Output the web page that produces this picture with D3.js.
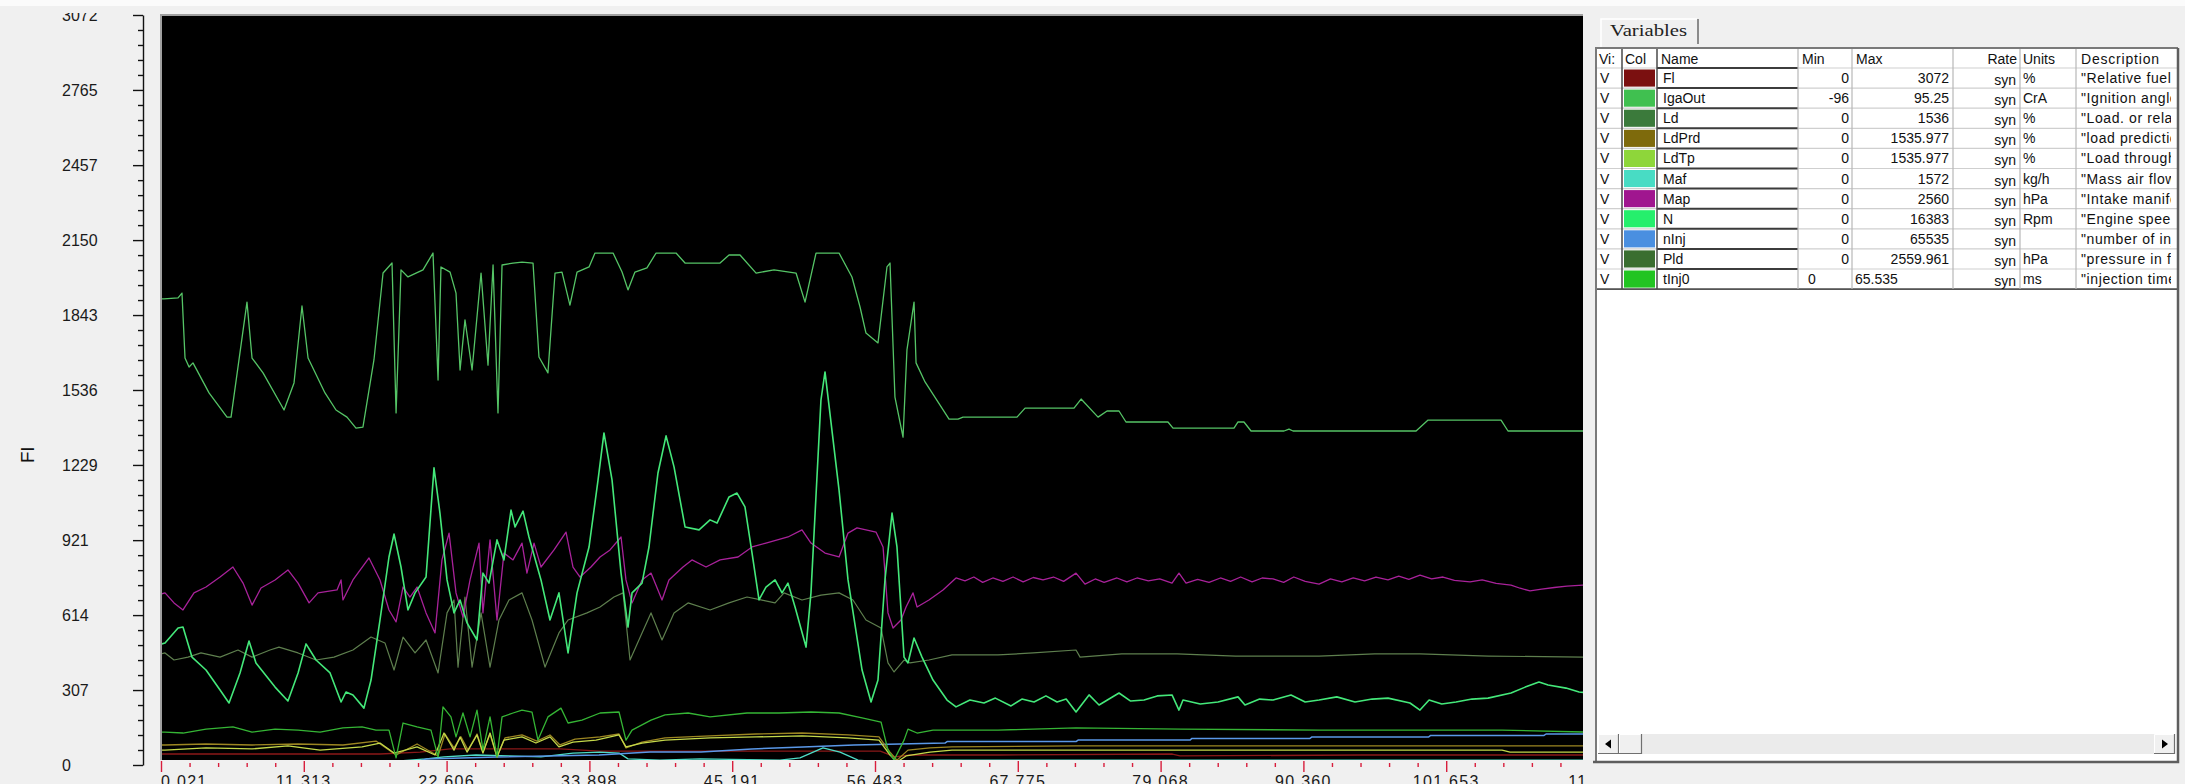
<!DOCTYPE html>
<html>
<head>
<meta charset="utf-8">
<script src="https://cdn.jsdelivr.net/npm/d3@7"></script>
<style>
  html, body { margin: 0; padding: 0; background: #f0f0f0; overflow: hidden; }
  svg { display: block; font-family: "Liberation Sans", Arial, sans-serif; }
</style>
</head>
<body>
<svg id="chart"></svg>
<script>
// axis labels
const yTickLabels = ["0", "307", "614", "921", "1229", "1536", "1843", "2150", "2457", "2765", "3072"];
const xTickLabels = ["0.021", "11.313", "22.606", "33.898", "45.191", "56.483", "67.775", "79.068", "90.360", "101.653", "112.945"];

// variables table
const varNames = ["Fl", "IgaOut", "Ld", "LdPrd", "LdTp", "Maf", "Map", "N", "nInj", "Pld", "tInj0"];
const varMins = ["0", "-96", "0", "0", "0", "0", "0", "0", "0", "0", "0"];
const varMaxes = ["3072", "95.25", "1536", "1535.977", "1535.977", "1572", "2560", "16383", "65535", "2559.961", "65.535"];
const varUnits = ["%", "CrA", "%", "%", "%", "kg/h", "hPa", "Rpm", "", "hPa", "ms"];
const varDescriptions = ['"Relative fuel mass"', '"Ignition angle output"', '"Load. or relative air charge"', '"load prediction"',
  '"Load through throttle"', '"Mass air flow"', '"Intake manifold pressure"', '"Engine speed"', '"number of injections"',
  '"pressure in front of throttle"', '"injection time"'];
const varColors = ["#7b1010", "#40c050", "#3b7a3b", "#7e6a0c", "#8ed63a", "#48dcc4", "#a0168f", "#25ef6c", "#4a8fe0", "#3a6e30", "#22c422"];

// series, [time s, value on Fl axis]
const igaOutData = [[0.021,1909],[0.26,1909],[1.37,1913],[1.68,1933],[1.92,1667],[2.24,1630],[2.55,1647],[3.82,1524],[5.24,1425],[5.56,1425],[6.82,1896],[7.22,1667],[8.09,1606],[9.75,1454],[10.54,1565],[11.17,1880],[11.65,1667],[12.99,1524],[13.86,1454],[14.73,1425],[15.44,1380],[15.99,1384],[16.86,1659],[17.58,2015],[18.29,2056],[18.61,1442],[19.0,2028],[19.55,1999],[20.74,2028],[21.53,2097],[21.93,1577],[22.16,2040],[22.88,2019],[23.35,1933],[23.67,1618],[24.06,1823],[24.62,1618],[25.33,2015],[25.88,1638],[26.28,2048],[26.67,1442],[26.99,2048],[27.86,2056],[28.57,2060],[29.44,2056],[29.91,1671],[30.62,1606],[31.18,2015],[31.73,2019],[32.36,1884],[32.92,2019],[33.87,2040],[34.34,2097],[35.77,2097],[36.48,2019],[36.95,1946],[37.5,2019],[38.45,2036],[39.17,2097],[40.75,2097],[41.46,2056],[44.23,2056],[44.94,2089],[45.81,2089],[47.08,2015],[48.5,2028],[50.24,2015],[50.95,1896],[51.82,2097],[53.64,2097],[54.66,1999],[55.3,1876],[55.77,1769],[56.72,1729],[57.43,2040],[57.67,2056],[58.06,1507],[58.7,1343],[59.01,1700],[59.57,1896],[59.73,1647],[60.44,1569],[62.34,1417],[63.05,1417],[63.44,1425],[67.71,1425],[68.35,1462],[72.22,1462],[72.78,1499],[74.12,1425],[74.83,1450],[75.78,1450],[76.33,1405],[79.65,1405],[80.05,1380],[84.87,1380],[85.19,1405],[85.66,1405],[86.22,1368],[88.83,1368],[89.22,1376],[89.54,1368],[99.27,1368],[100.22,1413],[105.99,1413],[106.54,1368],[112.71,1368]];

const nData = [[0.021,495],[0.34,500],[1.37,561],[1.76,565],[2.47,442],[3.58,389],[4.69,307],[5.4,254],[6.27,377],[6.98,508],[7.53,418],[9.04,319],[10.06,262],[10.86,377],[11.49,496],[12.28,430],[13.39,377],[14.26,258],[14.65,299],[15.2,287],[16.07,233],[16.63,348],[17.34,594],[18.05,852],[18.45,946],[19.0,811],[19.55,635],[20.11,705],[20.98,770],[21.61,1217],[22.08,1032],[22.64,758],[23.19,623],[23.67,676],[24.22,582],[25.01,512],[25.48,786],[25.96,745],[26.59,922],[27.14,840],[27.7,1044],[28.02,975],[28.65,1040],[29.12,934],[30.07,758],[30.78,594],[31.49,705],[32.21,459],[32.92,705],[33.87,893],[34.58,1167],[35.05,1360],[35.69,1167],[36.4,786],[36.95,565],[37.27,705],[38.06,745],[38.61,893],[39.32,1196],[39.96,1348],[40.59,1221],[41.46,975],[42.57,963],[43.44,1004],[43.99,991],[44.94,1098],[45.57,1114],[46.2,1057],[46.76,868],[47.31,676],[47.86,729],[48.58,758],[49.13,705],[49.6,745],[50.16,647],[51.03,483],[51.42,705],[52.21,1495],[52.53,1610],[53.64,1126],[54.35,758],[55.46,389],[56.17,258],[56.72,348],[57.27,758],[57.83,1032],[58.22,893],[58.78,442],[59.09,418],[59.57,520],[60.2,442],[61.07,348],[62.18,266],[62.89,238],[63.99,266],[65.1,254],[66.0,274],[67.24,242],[68.1,270],[69.06,258],[70.0,283],[70.88,258],[71.6,270],[72.38,217],[73.41,287],[74.2,246],[75.78,295],[76.7,262],[77.76,266],[78.8,283],[79.97,287],[80.52,225],[80.84,266],[82.2,250],[83.61,258],[85.19,279],[85.74,246],[86.9,270],[87.96,266],[89.38,287],[90.5,258],[91.6,266],[93.0,279],[94.44,258],[95.8,270],[97.05,274],[98.79,254],[99.58,225],[100.3,266],[101.3,250],[102.43,258],[103.7,270],[104.96,274],[106.78,295],[107.9,319],[108.99,340],[109.71,328],[111.13,315],[112.16,299],[112.6,297]];

const mapData = [[0.021,700],[0.34,705],[1.05,664],[1.76,635],[2.63,705],[3.58,729],[4.69,770],[5.71,811],[6.51,745],[7.22,655],[7.93,725],[9.04,758],[10.06,799],[10.86,745],[11.73,664],[12.44,705],[13.94,717],[14.26,758],[14.41,676],[15.2,758],[16.47,848],[17.34,758],[18.05,635],[18.61,586],[19.16,729],[19.71,688],[20.27,729],[20.98,623],[21.69,541],[22.24,840],[22.8,950],[23.35,705],[23.9,606],[24.46,758],[25.17,909],[25.48,623],[26.04,922],[26.59,594],[27.14,868],[27.86,840],[28.57,909],[28.96,786],[29.52,909],[30.07,811],[31.1,881],[32.05,954],[32.6,811],[33.16,770],[34.02,811],[34.74,852],[35.53,881],[36.4,934],[36.79,758],[37.27,664],[38.06,758],[38.77,786],[39.64,676],[40.19,758],[41.3,811],[42.01,840],[43.12,811],[44.23,840],[45.65,852],[46.76,893],[47.86,909],[49.6,934],[50.71,963],[51.42,909],[52.53,868],[53.64,852],[54.35,950],[55.06,971],[56.56,954],[57.12,893],[57.51,623],[57.91,561],[58.54,594],[58.94,647],[59.49,705],[59.81,647],[60.75,676],[61.86,717],[62.89,766],[63.6,754],[64.3,770],[65.0,748],[65.8,766],[66.6,752],[67.4,770],[68.2,750],[69.0,768],[69.77,758],[70.6,770],[71.4,752],[72.38,786],[73.09,741],[73.9,762],[74.6,748],[75.62,766],[76.4,750],[77.2,766],[78.1,754],[79.0,762],[79.97,745],[80.52,786],[81.08,745],[82.0,760],[82.9,748],[83.8,766],[84.6,752],[85.4,770],[86.3,750],[87.1,766],[87.96,762],[88.8,748],[89.6,770],[90.5,752],[91.6,741],[92.5,762],[93.4,750],[94.3,766],[95.2,754],[96.1,770],[97.05,758],[97.9,774],[98.7,760],[99.58,778],[100.5,762],[101.4,770],[102.3,756],[103.54,750],[104.5,758],[105.6,744],[106.78,737],[107.5,724],[108.28,713],[109.2,720],[110.2,727],[111.2,733],[112.6,737]];

const ldData = [[0.021,455],[0.34,459],[1.05,430],[2.16,442],[3.18,459],[4.69,442],[6.11,471],[7.22,442],[8.64,471],[9.35,483],[10.86,459],[12.28,430],[13.7,442],[15.2,471],[16.63,524],[17.73,500],[18.45,389],[19.16,524],[20.11,459],[20.98,512],[21.93,377],[22.64,623],[23.19,676],[23.51,401],[24.06,688],[24.62,401],[25.33,623],[26.04,401],[26.75,594],[27.54,676],[28.57,705],[29.36,594],[30.39,401],[31.49,541],[32.21,594],[33.71,623],[34.74,647],[35.84,688],[36.56,705],[37.11,430],[38.06,541],[38.77,623],[39.64,512],[40.59,623],[41.7,664],[43.44,635],[44.94,664],[46.36,688],[47.47,676],[48.58,664],[49.29,705],[50.71,676],[52.21,696],[53.64,705],[54.74,676],[55.77,594],[56.96,561],[57.51,418],[57.99,381],[58.78,430],[59.25,418],[60.75,430],[62.57,451],[66.21,451],[69.0,459],[72.38,471],[72.7,442],[76.0,455],[80.37,455],[85.0,446],[91.6,446],[96.0,455],[99.58,455],[105.0,446],[112.6,442]];

const tInj0Data = [[0.021,135],[0.34,135],[1.76,131],[3.58,147],[5.71,156],[7.22,135],[9.04,147],[10.86,143],[12.6,135],[14.41,152],[15.92,156],[17.02,143],[18.05,143],[18.61,29],[19.16,172],[20.27,156],[21.37,143],[21.93,33],[22.32,238],[22.95,197],[23.35,115],[23.9,213],[24.46,115],[25.01,225],[25.48,61],[26.04,197],[26.59,33],[26.99,197],[27.86,213],[28.57,225],[29.36,217],[29.83,102],[30.62,197],[31.65,233],[32.21,172],[33.31,184],[34.74,213],[36.24,217],[36.79,102],[37.27,143],[38.77,184],[39.88,205],[41.7,213],[43.44,197],[46.36,213],[48.89,213],[51.42,217],[53.64,213],[55.46,193],[56.96,176],[57.51,61],[57.99,20],[58.78,102],[59.09,147],[59.81,131],[61.07,143],[66.21,143],[72.38,152],[80.68,147],[91.6,143],[106.07,143],[112.6,135]];

const ldPrdData = [[0.021,82],[0.34,82],[3.58,86],[7.22,82],[10.86,86],[14.41,82],[17.02,98],[18.61,41],[20.27,86],[21.93,37],[22.48,127],[23.19,70],[23.74,115],[24.3,61],[25.01,127],[25.48,53],[26.04,127],[26.59,33],[27.22,111],[28.57,123],[29.75,98],[30.78,123],[31.57,82],[32.76,106],[34.74,115],[36.24,127],[36.79,70],[38.06,94],[39.88,111],[43.44,119],[47.08,127],[50.71,131],[54.35,123],[56.8,115],[57.67,53],[58.22,20],[59.09,61],[60.83,70],[62.57,74],[72.38,78],[112.6,78]];

const ldTpData = [[0.021,61],[0.34,61],[3.58,70],[7.22,66],[10.06,78],[12.6,61],[15.92,74],[17.34,90],[18.45,49],[20.27,74],[21.69,41],[22.4,131],[23.19,61],[23.67,115],[24.22,53],[25.01,123],[25.48,49],[26.04,131],[26.59,33],[27.14,102],[28.57,115],[29.67,90],[30.78,115],[31.49,74],[32.6,94],[34.42,102],[36.24,123],[36.79,74],[38.06,90],[39.88,102],[43.44,111],[47.08,115],[50.71,119],[54.35,111],[56.8,102],[57.67,41],[58.22,12],[58.94,37],[60.83,53],[62.57,61],[106.07,61],[106.7,53],[112.6,53]];

const flData = [[0.021,45],[17.34,45],[20.5,53],[22.9,66],[31.6,66],[34.7,57],[42.6,57],[56.9,57],[58.06,33],[59.25,41],[66.37,41],[80.0,45],[80.6,37],[95.0,41],[112.6,41]];

const nInjData = [[0.021,0],[19.71,0],[20.98,25],[26.59,33],[34.66,41],[38.69,53],[42.72,53],[46.76,66],[50.79,74],[54.82,82],[58.46,86],[62.02,90],[62.18,96],[72.38,96],[72.54,102],[81.39,102],[81.55,109],[90.88,109],[91.04,115],[100.27,115],[100.43,121],[109.39,121],[109.55,127],[112.6,127]];

const mafData = [[0.021,0],[17.73,12],[20.98,25],[22.4,33],[24.93,41],[27.54,37],[30.07,33],[32.6,49],[34.74,53],[36.24,49],[36.95,25],[39.48,20],[42.65,25],[48.97,20],[50.55,29],[52.37,70],[53.72,53],[55.14,20],[56.88,12],[58.06,4],[59.25,16],[61.63,20],[112.6,20]];

const seriesList = [
  { data: flData, color: "#8a1818", width: 1.3 },
  { data: mafData, color: "#4edcc6", width: 1.3 },
  { data: nInjData, color: "#5a98e8", width: 1.5 },
  { data: ldPrdData, color: "#9c8622", width: 1.3 },
  { data: ldTpData, color: "#c4d84a", width: 1.3 },
  { data: tInj0Data, color: "#35b535", width: 1.3 },
  { data: ldData, color: "#5e7f4e", width: 1.2 },
  { data: mapData, color: "#a8229a", width: 1.3 },
  { data: nData, color: "#44e87a", width: 1.6 },
  { data: igaOutData, color: "#55c466", width: 1.3 }
];

const W = 2185, H = 784;
const plotLeft = 162, plotTop = 16, plotRight = 1583, plotBottom = 760;

const x = d3.scaleLinear().domain([0.021, 112.945]).range([161, 1589]);
const y = d3.scaleLinear().domain([0, 3072]).range([765, 15]);

const svg = d3.select("#chart").attr("width", W).attr("height", H);
svg.append("rect").attr("width", W).attr("height", H).attr("fill", "#f0f0f0");
svg.append("rect").attr("width", W).attr("height", 6).attr("fill", "#fbfbfb");

const defs = svg.append("defs");
defs.append("clipPath").attr("id", "plotClip").append("rect")
  .attr("x", plotLeft).attr("y", plotTop).attr("width", plotRight - plotLeft).attr("height", plotBottom - plotTop);
defs.append("clipPath").attr("id", "xAxisClip").append("rect")
  .attr("x", 0).attr("y", 0).attr("width", 1584).attr("height", H);
defs.append("clipPath").attr("id", "yLabelClip").append("rect")
  .attr("x", 0).attr("y", 13).attr("width", 160).attr("height", H);
defs.append("clipPath").attr("id", "descClip").append("rect")
  .attr("x", 2076).attr("y", 0).attr("width", 95).attr("height", H);
defs.append("clipPath").attr("id", "viClip").append("rect")
  .attr("x", 1597).attr("y", 0).attr("width", 24).attr("height", H);

// plot box
svg.append("rect").attr("x", plotLeft - 2).attr("y", plotTop - 2)
  .attr("width", plotRight - plotLeft + 2).attr("height", plotBottom - plotTop + 2).attr("fill", "#a0a0a0");
svg.append("rect").attr("x", plotLeft).attr("y", plotTop)
  .attr("width", plotRight - plotLeft).attr("height", plotBottom - plotTop).attr("fill", "#000");

const line = d3.line().x(d => x(d[0])).y(d => y(d[1]));
const gLines = svg.append("g").attr("clip-path", "url(#plotClip)");
seriesList.forEach(s => {
  gLines.append("path").datum(s.data)
    .attr("d", line)
    .attr("fill", "none")
    .attr("stroke", s.color)
    .attr("stroke-width", s.width)
    .attr("stroke-linejoin", "round");
});

// y axis
const yMajor = yTickLabels.map(Number);
const yMinor = [];
for (let i = 0; i < yMajor.length - 1; i++) {
  const step = (yMajor[i + 1] - yMajor[i]) / 5;
  for (let k = 1; k < 5; k++) yMinor.push(yMajor[i] + k * step);
}
const gy = svg.append("g").attr("transform", "translate(143,0)");
gy.call(d3.axisLeft(y).tickValues(yMajor).tickSize(10).tickSizeOuter(0).tickFormat(""));
gy.append("g").call(d3.axisLeft(y).tickValues(yMinor).tickSize(5).tickFormat(""))
  .select(".domain").remove();
gy.selectAll("path, line").attr("stroke", "#111").attr("stroke-width", 1.4);

svg.append("g").attr("clip-path", "url(#yLabelClip)")
  .selectAll("text").data(yTickLabels).join("text")
  .attr("x", 62).attr("y", d => y(+d) + 5.6)
  .attr("font-size", 16).attr("fill", "#1a1a1a")
  .text(d => d);

svg.append("text").attr("transform", "translate(34,455) rotate(-90)")
  .attr("text-anchor", "middle").attr("font-size", 19).attr("fill", "#111")
  .text("Fl");

// x axis
const xMajor = xTickLabels.map(Number);
const xMinor = [];
for (let i = 0; i < xMajor.length - 1; i++) {
  const step = (xMajor[i + 1] - xMajor[i]) / 5;
  for (let k = 1; k < 5; k++) xMinor.push(xMajor[i] + k * step);
}
const gx = svg.append("g").attr("clip-path", "url(#xAxisClip)");
gx.append("g").attr("transform", "translate(0,761)")
  .call(d3.axisBottom(x).tickValues(xMajor).tickSize(11).tickSizeOuter(0).tickFormat(""));
gx.append("g").attr("transform", "translate(0,763)")
  .call(d3.axisBottom(x).tickValues(xMinor).tickSize(4).tickFormat(""));
gx.selectAll(".domain").remove();
gx.selectAll("line").attr("stroke", "#d81e3c").attr("stroke-width", 1.4);
gx.selectAll("text.xl").data(xTickLabels).join("text")
  .attr("class", "xl")
  .attr("x", (d, i) => i === xTickLabels.length - 1 ? x(+d) + 12 : x(+d))
  .attr("y", 787)
  .attr("text-anchor", (d, i) => i === 0 ? "start" : "middle")
  .attr("font-size", 16).attr("letter-spacing", 1.3).attr("fill", "#1a1a1a")
  .text(d => d);

// variables panel
const tabG = svg.append("g");
tabG.append("path").attr("d", "M1601,48V19H1697").attr("fill", "none").attr("stroke", "#ffffff").attr("stroke-width", 1.5);
tabG.append("path").attr("d", "M1698,19V44").attr("fill", "none").attr("stroke", "#6a6a6a").attr("stroke-width", 1.5);
tabG.append("text").attr("x", 1610).attr("y", 36)
  .attr("font-family", "'Liberation Serif', 'Times New Roman', serif")
  .attr("font-size", 17).attr("textLength", 77).attr("lengthAdjust", "spacingAndGlyphs")
  .attr("fill", "#222").text("Variables");

const tblLeft = 1597, tblRight = 2177, tblTop = 49, tblBottom = 761;
const colEdges = [1597, 1622, 1657, 1798, 1852, 1953, 2020, 2076, 2177];
const rowTop0 = 68, rowH = 20.1;
const rowsBottom = rowTop0 + varNames.length * rowH;

svg.append("rect").attr("x", tblLeft).attr("y", tblTop).attr("width", tblRight - tblLeft).attr("height", tblBottom - tblTop)
  .attr("fill", "#ffffff");

const grid = svg.append("g");
for (let i = 0; i <= varNames.length; i++) {
  const yy = rowTop0 + i * rowH;
  grid.append("line").attr("x1", tblLeft).attr("x2", tblRight).attr("y1", yy).attr("y2", yy)
    .attr("stroke", "#cfcfcf").attr("stroke-width", 1.2);
  if (i < varNames.length) {
    grid.append("line").attr("x1", colEdges[2]).attr("x2", colEdges[3]).attr("y1", yy).attr("y2", yy)
      .attr("stroke", "#3c3c3c").attr("stroke-width", 2);
  }
}
grid.append("line").attr("x1", tblLeft).attr("x2", tblRight).attr("y1", rowsBottom).attr("y2", rowsBottom)
  .attr("stroke", "#555").attr("stroke-width", 1.6);
colEdges.slice(1, -1).forEach((cx, i) => {
  grid.append("line").attr("x1", cx).attr("x2", cx).attr("y1", tblTop).attr("y2", rowsBottom)
    .attr("stroke", i < 2 ? "#4a4a4a" : "#b8b8b8").attr("stroke-width", i < 2 ? 1.5 : 1.2);
});

// header
const headers = [
  { t: "Vi:", x: 1599, a: "start", ls: 0 }, { t: "Col", x: 1625, a: "start", ls: 0 }, { t: "Name", x: 1661, a: "start", ls: 0 },
  { t: "Min", x: 1802, a: "start", ls: 0 }, { t: "Max", x: 1856, a: "start", ls: 0 }, { t: "Rate", x: 2017, a: "end", ls: 0 },
  { t: "Units", x: 2023, a: "start", ls: 0 }, { t: "Description", x: 2081, a: "start", ls: 0.8 }
];
svg.append("g").selectAll("text").data(headers).join("text")
  .attr("x", d => d.x).attr("y", 64).attr("text-anchor", d => d.a)
  .attr("letter-spacing", d => d.ls)
  .attr("clip-path", (d, i) => i === 0 ? "url(#viClip)" : null)
  .attr("font-size", 14).attr("fill", "#111").text(d => d.t);

// rows
const rows = svg.append("g").attr("font-size", 14).attr("fill", "#111");
varNames.forEach((name, i) => {
  const top = rowTop0 + i * rowH;
  const base = top + 15;
  const last = i === varNames.length - 1;
  rows.append("text").attr("x", 1600).attr("y", base).text("V");
  rows.append("rect").attr("x", 1624).attr("y", top + 1.5).attr("width", 31).attr("height", rowH - 3)
    .attr("fill", varColors[i]);
  rows.append("text").attr("x", 1663).attr("y", base).text(name);
  rows.append("text").attr("x", last ? 1808 : 1849).attr("y", base)
    .attr("text-anchor", last ? "start" : "end").text(varMins[i]);
  rows.append("text").attr("x", last ? 1855 : 1949).attr("y", base)
    .attr("text-anchor", last ? "start" : "end").text(varMaxes[i]);
  rows.append("text").attr("x", 2016).attr("y", base + 2).attr("text-anchor", "end").text("syn");
  rows.append("text").attr("x", 2023).attr("y", base).text(varUnits[i]);
  rows.append("text").attr("x", 2081).attr("y", base).attr("letter-spacing", 0.6)
    .attr("clip-path", "url(#descClip)").text(varDescriptions[i]);
});

// horizontal scrollbar
const sb = svg.append("g");
sb.append("rect").attr("x", 1598).attr("y", 734).attr("width", 577).attr("height", 20).attr("fill", "#ebebeb");
function sbButton(bx, w) {
  sb.append("rect").attr("x", bx).attr("y", 734).attr("width", w).attr("height", 20).attr("fill", "#f0f0f0");
  sb.append("path").attr("d", `M${bx + 0.5},754V734.5H${bx + w}`).attr("fill", "none").attr("stroke", "#ffffff");
  sb.append("path").attr("d", `M${bx},753.5H${bx + w - 0.5}V734`).attr("fill", "none").attr("stroke", "#707070").attr("stroke-width", 1.2);
}
sbButton(1598, 21);
sbButton(1619, 23);
sbButton(2154, 21);
sb.append("path").attr("d", "M1605,744L1611,739.5V748.5Z").attr("fill", "#000");
sb.append("path").attr("d", "M2168,744L2162,739.5V748.5Z").attr("fill", "#000");

// panel frame
const frame = svg.append("g").attr("fill", "none");
frame.append("path").attr("d", `M${tblLeft - 1},${tblBottom}V${tblTop - 1}H${tblRight + 1}`).attr("stroke", "#7a7a7a").attr("stroke-width", 2);
frame.append("path").attr("d", `M1593,${tblBottom + 1}H${tblRight + 1}V${tblTop - 1}`).attr("stroke", "#5e5e5e").attr("stroke-width", 2.5);
</script>
</body>
</html>
